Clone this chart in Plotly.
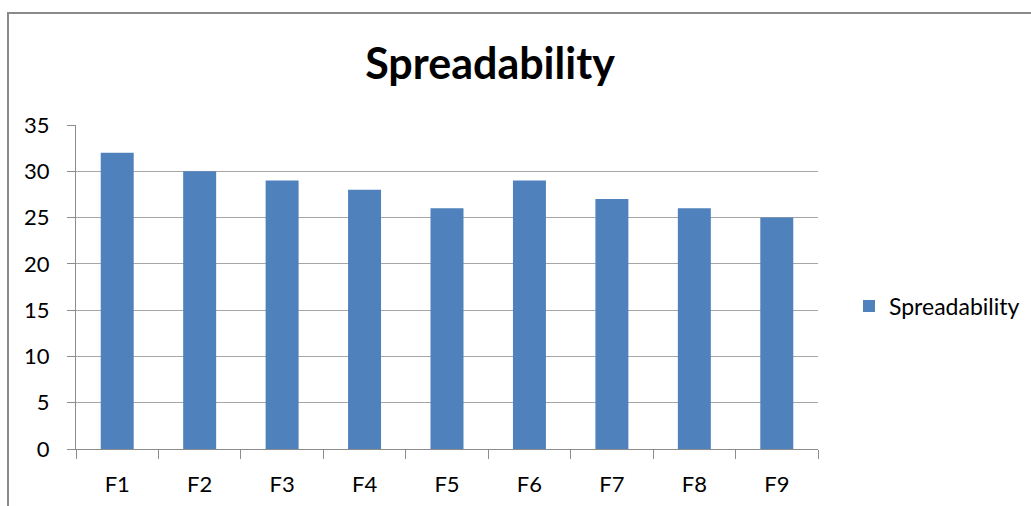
import plotly.graph_objects as go

categories = ["F1", "F2", "F3", "F4", "F5", "F6", "F7", "F8", "F9"]
spreadability = [32, 30, 29, 28, 26, 29, 27, 26, 25]
y_ticks = [0, 5, 10, 15, 20, 25, 30, 35]

W, H = 1031, 506
L, R, T, B = 76, 213, 125, 57
pw, ph = W - L - R, H - T - B

def px_x(x):
    return (x - L) / pw

def px_y(y):
    return (H - B - y) / ph

font = "Lato, 'Open Sans', sans-serif"
bar_color = "#4F81BD"
grid_color = "#A6A6A6"
axis_color = "#8C8C8C"

fig = go.Figure(
    go.Bar(
        x=categories,
        y=spreadability,
        name="Spreadability",
        marker=dict(color=bar_color, line=dict(width=0)),
        showlegend=True,
    )
)

fig.update_layout(
    width=W,
    height=H,
    margin=dict(l=L, r=R, t=T, b=B, autoexpand=False),
    paper_bgcolor="white",
    plot_bgcolor="white",
    bargap=0.6,
    title=dict(
        text="<b>Spreadability</b>",
        x=490 / W,
        xanchor="center",
        y=1 - 64 / H,
        yanchor="middle",
        font=dict(family=font, size=43, color="#000000"),
    ),
    legend=dict(
        x=px_x(849),
        y=px_y(306),
        xanchor="left",
        yanchor="middle",
        font=dict(family=font, size=23, color="#000000"),
        itemwidth=30,
        bgcolor="rgba(0,0,0,0)",
    ),
    font=dict(family=font, size=22, color="#000000"),
)

fig.update_xaxes(
    showline=True,
    linecolor=axis_color,
    linewidth=1,
    ticks="outside",
    ticklen=9,
    tickcolor=axis_color,
    tickson="boundaries",
    showgrid=False,
    ticklabelstandoff=16,
    tickfont=dict(family=font, size=22, color="#000000"),
)

fig.update_yaxes(
    range=[0, 35],
    tickvals=y_ticks,
    showline=True,
    linecolor=axis_color,
    linewidth=1,
    ticks="outside",
    ticklen=8,
    tickcolor=axis_color,
    showgrid=True,
    gridcolor=grid_color,
    gridwidth=1,
    zeroline=False,
    ticklabelstandoff=13,
    tickfont=dict(family=font, size=22, color="#000000"),
)

# outer frame around the chart (runs off the right and bottom edges)
fig.add_shape(
    type="rect",
    xref="paper",
    yref="paper",
    x0=px_x(8),
    x1=px_x(W + 20),
    y0=px_y(H + 20),
    y1=px_y(13),
    line=dict(color="#8A8A8A", width=2),
    fillcolor="rgba(0,0,0,0)",
    layer="below",
)

fig.write_html("out.html")
